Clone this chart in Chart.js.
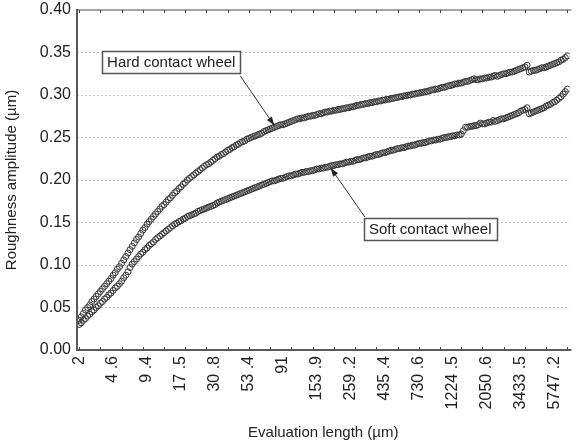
<!DOCTYPE html>
<html>
<head>
<meta charset="utf-8">
<script src="https://cdn.jsdelivr.net/npm/chart.js@4/dist/chart.umd.min.js"></script>
<style>
  html, body { margin: 0; padding: 0; background: #fff; }
</style>
</head>
<body>
<canvas id="roughChart" width="580" height="446"></canvas>
<script>
// one tick label every 16 samples
const xTickLabels = ["2", "4 .6", "9 .4", "17 .5", "30 .8", "53 .4", "91", "153 .9",
  "259 .2", "435 .4", "730 .6", "1224 .5", "2050 .6", "3433 .5", "5747 .2"];

// roughness amplitude (µm), one value per sample
const hardWheel = [
  0.035, 0.039, 0.043, 0.047, 0.050, 0.053, 0.057, 0.060, 0.063, 0.066,
  0.069, 0.072, 0.075, 0.078, 0.081, 0.084, 0.088, 0.091, 0.095, 0.098,
  0.102, 0.106, 0.110, 0.114, 0.118, 0.122, 0.126, 0.130, 0.133, 0.137,
  0.141, 0.144, 0.148, 0.151, 0.154, 0.157, 0.160, 0.163, 0.166, 0.169,
  0.171, 0.174, 0.177, 0.179, 0.182, 0.185, 0.187, 0.190, 0.192, 0.195,
  0.197, 0.200, 0.202, 0.204, 0.206, 0.208, 0.210, 0.212, 0.214, 0.216,
  0.218, 0.219, 0.221, 0.223, 0.225, 0.227, 0.228, 0.230, 0.231, 0.233,
  0.235, 0.236, 0.238, 0.239, 0.241, 0.242, 0.244, 0.245, 0.246, 0.248,
  0.249, 0.250, 0.251, 0.252, 0.253, 0.254, 0.255, 0.257, 0.258, 0.259,
  0.260, 0.261, 0.262, 0.263, 0.264, 0.265, 0.265, 0.266, 0.267, 0.268,
  0.269, 0.270, 0.271, 0.272, 0.272, 0.273, 0.273, 0.274, 0.275, 0.275,
  0.276, 0.276, 0.277, 0.278, 0.278, 0.279, 0.280, 0.280, 0.281, 0.281,
  0.282, 0.282, 0.283, 0.283, 0.284, 0.284, 0.285, 0.285, 0.286, 0.286,
  0.287, 0.288, 0.288, 0.289, 0.289, 0.290, 0.290, 0.291, 0.291, 0.292,
  0.292, 0.293, 0.293, 0.294, 0.294, 0.295, 0.295, 0.296, 0.296, 0.297,
  0.297, 0.298, 0.298, 0.299, 0.299, 0.300, 0.300, 0.301, 0.301, 0.302,
  0.302, 0.303, 0.303, 0.304, 0.304, 0.305, 0.306, 0.306, 0.307, 0.307,
  0.308, 0.309, 0.309, 0.310, 0.311, 0.311, 0.312, 0.313, 0.313, 0.314,
  0.314, 0.315, 0.316, 0.316, 0.317, 0.318, 0.319, 0.318, 0.318, 0.319,
  0.319, 0.320, 0.320, 0.321, 0.321, 0.322, 0.323, 0.322, 0.323, 0.324,
  0.325, 0.325, 0.326, 0.327, 0.327, 0.328, 0.329, 0.330, 0.331, 0.332,
  0.333, 0.335, 0.327, 0.328, 0.329, 0.329, 0.330, 0.331, 0.332, 0.332,
  0.333, 0.334, 0.335, 0.336, 0.337, 0.338, 0.339, 0.341, 0.342, 0.344,
  0.346
];

const softWheel = [
  0.030, 0.032, 0.035, 0.037, 0.040, 0.042, 0.045, 0.047, 0.050, 0.052,
  0.055, 0.057, 0.060, 0.062, 0.065, 0.067, 0.070, 0.073, 0.075, 0.078,
  0.081, 0.085, 0.088, 0.092, 0.097, 0.101, 0.104, 0.107, 0.110, 0.113,
  0.115, 0.118, 0.120, 0.123, 0.125, 0.127, 0.130, 0.132, 0.134, 0.136,
  0.138, 0.140, 0.142, 0.144, 0.146, 0.148, 0.149, 0.151, 0.152, 0.154,
  0.155, 0.157, 0.158, 0.159, 0.160, 0.161, 0.163, 0.164, 0.165, 0.166,
  0.167, 0.168, 0.169, 0.170, 0.171, 0.173, 0.174, 0.175, 0.176, 0.177,
  0.178, 0.179, 0.180, 0.181, 0.182, 0.183, 0.184, 0.185, 0.186, 0.187,
  0.188, 0.189, 0.190, 0.191, 0.192, 0.193, 0.194, 0.195, 0.196, 0.197,
  0.198, 0.199, 0.199, 0.200, 0.201, 0.202, 0.202, 0.203, 0.204, 0.205,
  0.205, 0.206, 0.207, 0.207, 0.208, 0.209, 0.209, 0.210, 0.210, 0.211,
  0.211, 0.212, 0.213, 0.213, 0.214, 0.214, 0.215, 0.215, 0.216, 0.217,
  0.217, 0.218, 0.218, 0.219, 0.219, 0.220, 0.221, 0.221, 0.222, 0.222,
  0.223, 0.224, 0.224, 0.225, 0.226, 0.226, 0.227, 0.228, 0.228, 0.229,
  0.230, 0.230, 0.231, 0.232, 0.232, 0.233, 0.234, 0.235, 0.235, 0.236,
  0.237, 0.237, 0.238, 0.238, 0.239, 0.240, 0.240, 0.241, 0.241, 0.242,
  0.243, 0.243, 0.244, 0.244, 0.245, 0.246, 0.246, 0.247, 0.247, 0.248,
  0.248, 0.249, 0.250, 0.250, 0.251, 0.251, 0.252, 0.252, 0.253, 0.253,
  0.254, 0.258, 0.262, 0.262, 0.263, 0.263, 0.264, 0.264, 0.265, 0.267,
  0.266, 0.266, 0.267, 0.268, 0.268, 0.270, 0.269, 0.270, 0.271, 0.272,
  0.272, 0.273, 0.274, 0.275, 0.276, 0.277, 0.278, 0.279, 0.281, 0.282,
  0.283, 0.285, 0.278, 0.279, 0.280, 0.281, 0.282, 0.283, 0.284, 0.285,
  0.287, 0.288, 0.289, 0.291, 0.292, 0.294, 0.296, 0.298, 0.301, 0.304,
  0.307
];

// callout boxes, placed in data units (sample index, µm)
const callouts = [
  { text: "Hard contact wheel", at: [43.4, 0.339], from: [75.9, 0.3225], tip: [92, 0.264] },
  { text: "Soft contact wheel", at: [165.4, 0.1424], from: [134.6, 0.1565], tip: [118.4, 0.2145] }
];

const FONT = "'Liberation Sans', Arial, sans-serif";

function toPoints(values) {
  return values.map((v, i) => ({ x: i, y: v }));
}

// axis frame with small inward ticks, like the original plot
const framePlugin = {
  id: "frame",
  afterDatasetsDraw(chart) {
    const { ctx, chartArea: a, scales: { x } } = chart;
    ctx.save();
    ctx.strokeStyle = "#8a8a8a";
    ctx.lineWidth = 1.5;
    ctx.beginPath();
    ctx.moveTo(a.left, a.top);
    ctx.lineTo(a.right + 2, a.top);
    ctx.stroke();

    ctx.strokeStyle = "#5a5a5a";
    ctx.lineWidth = 2;
    ctx.beginPath();
    ctx.moveTo(a.left, a.top - 1);
    ctx.lineTo(a.left, a.bottom);
    ctx.lineTo(a.right + 2, a.bottom);
    ctx.stroke();

    ctx.strokeStyle = "#444";
    ctx.lineWidth = 1;
    for (let i = 0; i <= 230; i += 10) {
      const px = Math.round(x.getPixelForValue(i)) + 0.5;
      ctx.beginPath();
      ctx.moveTo(px, a.top);
      ctx.lineTo(px, a.top + 3);
      ctx.moveTo(px, a.bottom);
      ctx.lineTo(px, a.bottom - 3);
      ctx.stroke();
    }
    ctx.restore();
  }
};

const calloutPlugin = {
  id: "callouts",
  afterDatasetsDraw(chart) {
    const { ctx, scales: { x, y } } = chart;
    ctx.save();
    ctx.font = "15px " + FONT;
    callouts.forEach(c => {
      const fx = x.getPixelForValue(c.from[0]), fy = y.getPixelForValue(c.from[1]);
      const tx = x.getPixelForValue(c.tip[0]), ty = y.getPixelForValue(c.tip[1]);
      // arrow
      ctx.strokeStyle = "#333";
      ctx.fillStyle = "#222";
      ctx.lineWidth = 1;
      ctx.beginPath();
      ctx.moveTo(fx, fy);
      ctx.lineTo(tx, ty);
      ctx.stroke();
      const ang = Math.atan2(ty - fy, tx - fx);
      ctx.beginPath();
      ctx.moveTo(tx, ty);
      ctx.lineTo(tx - 9 * Math.cos(ang) + 3 * Math.sin(ang), ty - 9 * Math.sin(ang) - 3 * Math.cos(ang));
      ctx.lineTo(tx - 9 * Math.cos(ang) - 3 * Math.sin(ang), ty - 9 * Math.sin(ang) + 3 * Math.cos(ang));
      ctx.closePath();
      ctx.fill();

      // box
      const cx = x.getPixelForValue(c.at[0]), cy = y.getPixelForValue(c.at[1]);
      const w = ctx.measureText(c.text).width + 10, h = 22;
      ctx.fillStyle = "#fff";
      ctx.fillRect(cx - w / 2, cy - h / 2, w, h);
      ctx.strokeStyle = "#555";
      ctx.lineWidth = 1.5;
      ctx.strokeRect(Math.round(cx - w / 2) + 0.5, Math.round(cy - h / 2) + 0.5, Math.round(w), h);
      ctx.fillStyle = "#222";
      ctx.textAlign = "center";
      ctx.textBaseline = "middle";
      ctx.fillText(c.text, cx, cy + 1);
    });
    ctx.restore();
  }
};

const markerStyle = {
  showLine: false,
  pointStyle: "circle",
  pointRadius: 3,
  pointBorderWidth: 1,
  pointBorderColor: "#333",
  pointBackgroundColor: "rgba(255,255,255,0)"
};

new Chart(document.getElementById("roughChart"), {
  type: "scatter",
  data: {
    datasets: [
      Object.assign({ label: "Hard contact wheel", data: toPoints(hardWheel) }, markerStyle),
      Object.assign({ label: "Soft contact wheel", data: toPoints(softWheel) }, markerStyle)
    ]
  },
  options: {
    responsive: false,
    animation: false,
    layout: { padding: { top: 10, right: 2, left: 0, bottom: 0 } },
    plugins: { legend: { display: false }, tooltip: { enabled: false } },
    scales: {
      x: {
        type: "linear",
        min: -1,
        max: 231,
        grid: { display: false, drawTicks: false },
        border: { display: false },
        afterBuildTicks: scale => {
          scale.ticks = xTickLabels.map((_, k) => ({ value: k * 16 }));
        },
        afterFit: scale => { scale.height = 96; },
        ticks: {
          autoSkip: false,
          minRotation: 90,
          maxRotation: 90,
          padding: 6,
          color: "#222",
          font: { family: FONT, size: 16 },
          callback: value => xTickLabels[Math.round(value / 16)]
        },
        title: {
          display: true,
          text: "Evaluation length (µm)",
          color: "#222",
          font: { family: FONT, size: 15 },
          padding: { top: 0, bottom: 4 }
        }
      },
      y: {
        min: 0,
        max: 0.4,
        afterFit: scale => {
          scale.width = 77;
          scale.paddingTop = 0;
          scale.paddingBottom = 0;
        },
        grid: { color: "#c6c6c6", lineWidth: 1, drawTicks: false },
        border: { display: false, dash: [2, 2] },
        ticks: {
          stepSize: 0.05,
          padding: 6,
          color: "#222",
          font: { family: FONT, size: 16 },
          callback: v => v.toFixed(2)
        },
        title: {
          display: true,
          text: "Roughness amplitude (µm)",
          color: "#222",
          font: { family: FONT, size: 15 },
          padding: { top: 3, bottom: 0 }
        }
      }
    }
  },
  plugins: [framePlugin, calloutPlugin]
});
</script>
</body>
</html>
